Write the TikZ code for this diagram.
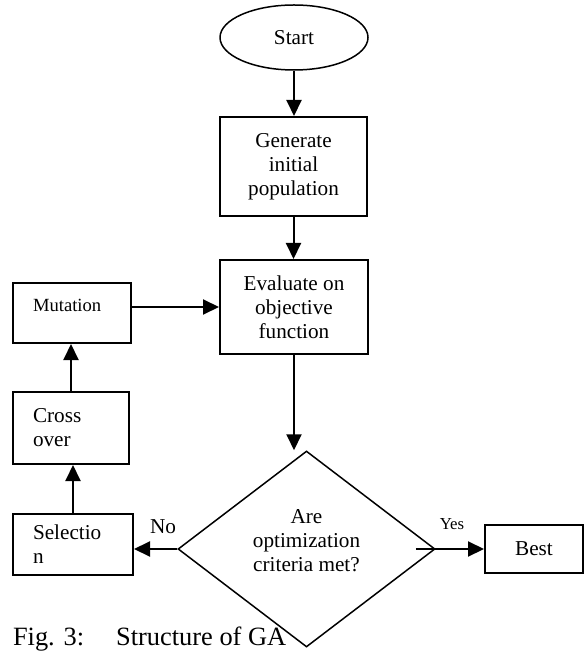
\documentclass[tikz,border=0pt]{standalone}
\usepackage{fontspec}
\setmainfont{Liberation Serif}
\usetikzlibrary{shapes.geometric, arrows.meta}

\begin{document}
\begin{tikzpicture}[x=0.5pt, y=-0.5pt, line width=1pt,
box/.style={draw, rectangle, inner sep=0pt, align=center, font=\fontsize{10.6}{12}\selectfont},
sidebox/.style={draw, rectangle, inner xsep=10pt, inner ysep=0pt, align=left, font=\fontsize{10.6}{12}\selectfont},
arr/.style={-{Triangle[length=8pt,width=7.5pt]}},
lbl/.style={inner sep=0pt, font=\fontsize{10.6}{12}\selectfont},]
\useasboundingbox (0,0) rectangle (584,651);
	\node[draw, ellipse, line width=0.75pt, minimum width=74pt, minimum height=32.5pt, inner sep=0pt,
	font=\fontsize{10.6}{12}\selectfont] (start) at (294,37.5) {Start};
	\node[box, minimum width=73.5pt, minimum height=49.5pt] (generate) at (293.5,166.5) {Generate\\initial\\population};
	\node[box, minimum width=74pt, minimum height=47pt] (evaluate) at (294,307) {Evaluate on\\objective\\function};
	\node[draw, diamond, line width=0.75pt, minimum width=128.5pt, minimum height=98pt, inner sep=0pt,
	align=center, text depth=8.5pt, font=\fontsize{10.6}{12}\selectfont] (criteria) at (306.5,549) {Are\\optimization\\criteria met?};
	\node[box, minimum width=49pt, minimum height=24pt] (best) at (534,549) {Best};
	\node[sidebox, text width=39pt, minimum height=30pt, text depth=8pt, font=\fontsize{9.3}{11}\selectfont] (mutation) at (72,313) {Mutation};
	\node[sidebox, text width=38pt, minimum height=36pt] (crossover) at (71,428) {Cross\\over};
	\node[sidebox, text width=40pt, minimum height=30.5pt] (selection) at (73,544.5) {Selectio\\n};
%arrows
	\draw[arr] (start.south |- start.south) -- (start.south |- generate.north);
	\draw[arr] (generate.south) -- (generate.south |- evaluate.north);
	\draw[arr] (evaluate.south) -- (evaluate.south |- criteria.north);
	\draw[arr] (mutation.east |- evaluate.west) -- (evaluate.west);
	\draw[arr] (crossover.north) -- (crossover.north |- mutation.south);
	\draw[arr] (selection.north) -- (selection.north |- crossover.south);
	\draw[arr] (criteria.west) -- (criteria.west -| selection.east);
	\draw[arr] ([xshift=-10pt]criteria.east) -- (criteria.east -| best.west);
	\node[lbl] (no) at (163,527) {No};
	\node[lbl, font=\fontsize{8.4}{10}\selectfont] (yes) at (452,524) {Yes};
	\node[anchor=base west, inner sep=0pt, font=\fontsize{13.2}{15}\selectfont] (caption) at (12,645) {Fig. 3:\hspace{16pt}Structure of GA};
\end{tikzpicture}
\end{document}
